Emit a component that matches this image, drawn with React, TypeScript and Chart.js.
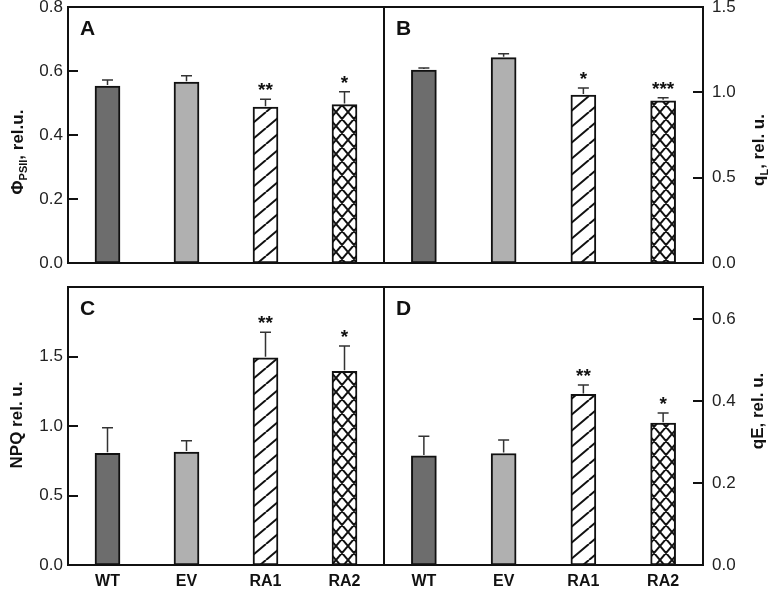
import React, { useEffect, useRef } from 'react';
import { Chart, registerables } from 'chart.js';

Chart.register(...registerables);

// ---------- data ----------
const categories = ['WT', 'EV', 'RA1', 'RA2'];

const phiValues = [0.553, 0.565, 0.487, 0.495];
const phiErrors = [0.019, 0.02, 0.025, 0.04];
const phiStars = ['', '', '**', '*'];

const qlValues = [1.131, 1.203, 0.984, 0.95];
const qlErrors = [0.012, 0.023, 0.041, 0.018];
const qlStars = ['', '', '*', '***'];

const npqValues = [0.804, 0.813, 1.491, 1.394];
const npqErrors = [0.184, 0.081, 0.183, 0.182];
const npqStars = ['', '', '**', '*'];

const qeValues = [0.266, 0.272, 0.416, 0.346];
const qeErrors = [0.048, 0.033, 0.023, 0.025];
const qeStars = ['', '', '**', '*'];

// ---------- styling ----------
const FONT = '"Liberation Sans", Arial, Helvetica, sans-serif';
const W = 768;
const H = 589;

type Part = { t: string; sub?: boolean };
type PanelSpec = {
  letter: string;
  values: number[];
  errors: number[];
  stars: string[];
  yMax: number;
  step: number;
  side: 'left' | 'right';
  showX: boolean;
  hideTop?: boolean;
  area: { left: number; top: number; right: number; bottom: number };
  title: { parts: Part[]; x: number; y: number };
};

function makeDiag(): CanvasPattern {
  const w = 19, h = 16;
  const c = document.createElement('canvas');
  c.width = w; c.height = h;
  const g = c.getContext('2d')!;
  g.fillStyle = '#fff';
  g.fillRect(0, 0, w, h);
  g.strokeStyle = '#111';
  g.lineWidth = 2;
  g.beginPath();
  for (const dx of [-w, 0, w]) {
    g.moveTo(dx, h);
    g.lineTo(dx + w, 0);
  }
  g.stroke();
  return g.createPattern(c, 'repeat')!;
}

function makeCross(): CanvasPattern {
  const w = 12, h = 14;
  const c = document.createElement('canvas');
  c.width = w; c.height = h;
  const g = c.getContext('2d')!;
  g.fillStyle = '#fff';
  g.fillRect(0, 0, w, h);
  g.strokeStyle = '#111';
  g.lineWidth = 2;
  g.beginPath();
  for (const dx of [-w, 0, w]) {
    g.moveTo(dx, h); g.lineTo(dx + w, 0);
    g.moveTo(dx, 0); g.lineTo(dx + w, h);
  }
  g.stroke();
  return g.createPattern(c, 'repeat')!;
}

function drawTitle(ctx: CanvasRenderingContext2D, parts: Part[], cx: number, cy: number) {
  const mainFont = `bold 17px ${FONT}`;
  const subFont = `bold 11px ${FONT}`;
  ctx.save();
  ctx.translate(cx, cy);
  ctx.rotate(-Math.PI / 2);
  let total = 0;
  const widths = parts.map((p) => {
    ctx.font = p.sub ? subFont : mainFont;
    const w = ctx.measureText(p.t).width;
    total += w;
    return w;
  });
  let x = -total / 2;
  ctx.fillStyle = '#111';
  ctx.textBaseline = 'alphabetic';
  ctx.textAlign = 'left';
  parts.forEach((p, i) => {
    ctx.font = p.sub ? subFont : mainFont;
    ctx.fillText(p.t, x, p.sub ? 10 : 6);
    x += widths[i];
  });
  ctx.restore();
}

function Panel({ spec }: { spec: PanelSpec }) {
  const ref = useRef<HTMLCanvasElement | null>(null);

  useEffect(() => {
    const canvas = ref.current;
    if (!canvas) return;
    const fills = ['#6d6d6d', '#b0b0b0', makeDiag(), makeCross()];
    const a = spec.area;

    const decor = {
      id: 'decor' + spec.letter,
      afterDraw(chart: any) {
        const ctx: CanvasRenderingContext2D = chart.ctx;
        const xs = chart.scales.x;
        const ys = chart.scales.y;
        const ca = chart.chartArea;
        ctx.save();
        // inward tick marks
        ctx.strokeStyle = '#111';
        ctx.lineWidth = 2;
        ys.ticks.forEach((t: any) => {
          if (t.value <= ys.min + 1e-9 || t.value >= ys.max - 1e-9) return;
          const y = Math.round(ys.getPixelForValue(t.value));
          ctx.beginPath();
          if (spec.side === 'left') {
            ctx.moveTo(ca.left, y);
            ctx.lineTo(ca.left + 10, y);
          } else {
            ctx.moveTo(ca.right, y);
            ctx.lineTo(ca.right - 10, y);
          }
          ctx.stroke();
        });
        // error bars and stars
        spec.values.forEach((v, i) => {
          const x = xs.getPixelForValue(i);
          const yTop = ys.getPixelForValue(v);
          const yErr = ys.getPixelForValue(v + spec.errors[i]);
          ctx.strokeStyle = '#333';
          ctx.lineWidth = 1.5;
          ctx.beginPath();
          ctx.moveTo(x, yTop - 1);
          ctx.lineTo(x, yErr);
          ctx.moveTo(x - 5.5, yErr);
          ctx.lineTo(x + 5.5, yErr);
          ctx.stroke();
          if (spec.stars[i]) {
            ctx.fillStyle = '#111';
            ctx.font = `bold 19px ${FONT}`;
            ctx.textAlign = 'center';
            ctx.textBaseline = 'alphabetic';
            ctx.fillText(spec.stars[i], x, yErr - 3);
          }
        });
        // frame
        ctx.strokeStyle = '#111';
        ctx.lineWidth = 2;
        ctx.strokeRect(ca.left, ca.top, ca.right - ca.left, ca.bottom - ca.top);
        // panel letter
        ctx.fillStyle = '#111';
        ctx.font = `bold 21px ${FONT}`;
        ctx.textAlign = 'left';
        ctx.textBaseline = 'alphabetic';
        ctx.fillText(spec.letter, ca.left + 12, ca.top + 28);
        // axis title
        drawTitle(ctx, spec.title.parts, spec.title.x, spec.title.y);
        ctx.restore();
      },
    };

    const chart = new Chart(canvas, {
      type: 'bar',
      data: {
        labels: categories,
        datasets: [
          {
            data: spec.values,
            backgroundColor: fills as any,
            borderColor: '#111',
            borderWidth: 2,
            borderSkipped: false,
            barThickness: 25,
          },
        ],
      },
      options: {
        responsive: false,
        animation: false,
        devicePixelRatio: 1,
        layout: {
          padding: {
            left: spec.side === 'left' ? a.left - 68 : a.left,
            right: spec.side === 'right' ? W - 65 - a.right : W - a.right,
            top: a.top,
            bottom: spec.showX ? H - 24 - a.bottom : H - a.bottom,
          },
        },
        plugins: {
          legend: { display: false },
          tooltip: { enabled: false },
        },
        scales: {
          x: {
            type: 'category',
            offset: true,
            display: spec.showX,
            grid: { display: false, drawTicks: false },
            border: { display: false },
            ticks: {
              color: '#111',
              font: { family: FONT, size: 16, weight: 'bold' },
              padding: 7,
              maxRotation: 0,
            },
            afterFit: (s: any) => {
              s.height = 24;
              s.paddingLeft = 0;
              s.paddingRight = 0;
            },
          },
          y: {
            type: 'linear',
            position: spec.side,
            min: 0,
            max: spec.yMax,
            grid: { display: false, drawTicks: false },
            border: { display: false },
            ticks: {
              stepSize: spec.step,
              includeBounds: false,
              color: '#222',
              font: { family: FONT, size: 17 },
              padding: spec.side === 'left' ? 5 : 9,
              callback: (v: any) => {
                const n = Number(v);
                if (spec.hideTop && n >= spec.yMax - 1e-9) return '';
                return n.toFixed(1);
              },
            },
            afterFit: (s: any) => {
              s.width = spec.side === 'left' ? 68 : 65;
              s.paddingTop = 0;
              s.paddingBottom = 0;
            },
          },
        },
      },
      plugins: [decor],
    });
    return () => chart.destroy();
  }, [spec]);

  return (
    <canvas
      ref={ref}
      width={W}
      height={H}
      style={{ position: 'absolute', left: 0, top: 0, width: W, height: H }}
    />
  );
}

const panels: PanelSpec[] = [
  {
    letter: 'A', values: phiValues, errors: phiErrors, stars: phiStars,
    yMax: 0.8, step: 0.2, side: 'left', showX: false,
    area: { left: 68, top: 7, right: 384, bottom: 287 },
    title: { parts: [{ t: 'Φ' }, { t: 'PSII', sub: true }, { t: ', rel.u.' }], x: 17, y: 152 },
  },
  {
    letter: 'B', values: qlValues, errors: qlErrors, stars: qlStars,
    yMax: 1.5, step: 0.5, side: 'right', showX: false,
    area: { left: 384, top: 7, right: 703, bottom: 287 },
    title: { parts: [{ t: 'q' }, { t: 'L', sub: true }, { t: ', rel. u.' }], x: 758, y: 150 },
  },
  {
    letter: 'C', values: npqValues, errors: npqErrors, stars: npqStars,
    yMax: 2.0, step: 0.5, side: 'left', showX: true, hideTop: true,
    area: { left: 68, top: 287, right: 384, bottom: 565 },
    title: { parts: [{ t: 'NPQ rel. u.' }], x: 16, y: 425 },
  },
  {
    letter: 'D', values: qeValues, errors: qeErrors, stars: qeStars,
    yMax: 0.678, step: 0.2, side: 'right', showX: true,
    area: { left: 384, top: 287, right: 703, bottom: 565 },
    title: { parts: [{ t: 'qE, rel. u.' }], x: 757, y: 411 },
  },
];

export default function App() {
  return (
    <div style={{ position: 'fixed', left: 0, top: 0, width: W, height: H, background: '#fff' }}>
      {panels.map((p) => (
        <Panel key={p.letter} spec={p} />
      ))}
    </div>
  );
}
